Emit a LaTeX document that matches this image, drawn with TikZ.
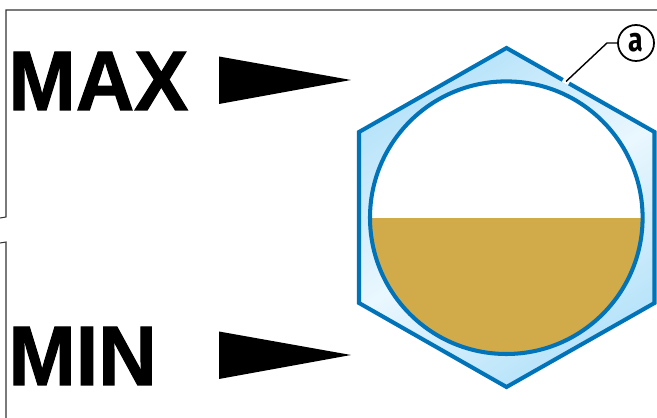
\documentclass[tikz,border=0pt]{standalone}
\usepackage{fontspec}
\setsansfont[BoldFeatures={FakeBold=1.2,FakeStretch=0.96}]{Liberation Sans}
\newfontfamily\condensada[FakeStretch=0.8]{Fira Sans}
\usetikzlibrary{positioning,calc}
\definecolor{contorno}{RGB}{0,115,185}
\definecolor{celeste}{RGB}{180,226,249}
\definecolor{celestecl}{RGB}{234,247,254}
\definecolor{aceite}{RGB}{209,170,74}
\definecolor{marco}{RGB}{50,50,50}

\begin{document}
\begin{tikzpicture}[
  x=0.02cm, y=-0.02cm,
  nivel/.style={font=\sffamily\bfseries\fontsize{48}{48}\selectfont, anchor=base west,
                inner sep=0pt},
  flecha/.style={fill=black, draw=none},
  llamada/.style={circle, draw=black, line width=1pt, fill=white, minimum size=0.72cm,
                  inner sep=0pt, font=\condensada\bfseries\fontsize{19}{19}\selectfont},
  borde/.style={draw=contorno, line width=2.3pt},
  guia/.style={draw=black, line width=0.8pt},
  marcoline/.style={draw=marco, line width=0.6pt},
]
\useasboundingbox (0,0) rectangle (657,418);
% ---- Marcos ---------------------------------------------------------------
\draw[marcoline] (657,10) -- (6,10) -- (6,217) -- (0,218);
\draw[marcoline] (0,243) -- (6,242) -- (6,418);
% ---- Hexagono --------------------------------------------------------------
\coordinate (centro) at (506.3,217.7);
\fill[left color=celeste, right color=celeste, middle color=celestecl, shading angle=32]
  (506.5,48) -- (654.5,132) -- (654.5,303) -- (506.5,387) -- (359,303) -- (359,132) -- cycle;
\fill[white] (centro) circle [radius=136.3];
\begin{scope}
  \clip (358,218.5) rectangle (654,388);
  \fill[aceite] (centro) circle [radius=136.3];
\end{scope}
\draw[borde] (centro) circle [radius=136.3];
\draw[borde, line join=miter]
  (506.5,48) -- (654.5,132) -- (654.5,303) -- (506.5,387) -- (359,303) -- (359,132) -- cycle;
% ---- Llamada a -------------------------------------------------------------
\coordinate (toque) at (566,81.5);
\coordinate (codo) at (607,43);
\node[llamada] (marca) at (636,43) {a};
\draw[white, line width=2.8pt] ($(toque)+(-3,-1.7)$) -- ($(toque)+(3,1.7)$);
\draw[guia] (toque) -- (codo) -- (marca);
% ---- Niveles ---------------------------------------------------------------
\node[nivel] (maxtxt) at (8,110) {MAX};
\node[nivel] (mintxt) at (8,385) {MIN};
\foreach \y in {80,355} {
  \fill[flecha] (219,\y-23.5) -- (351,\y) -- (219,\y+24) -- cycle;
}
\end{tikzpicture}
\end{document}
